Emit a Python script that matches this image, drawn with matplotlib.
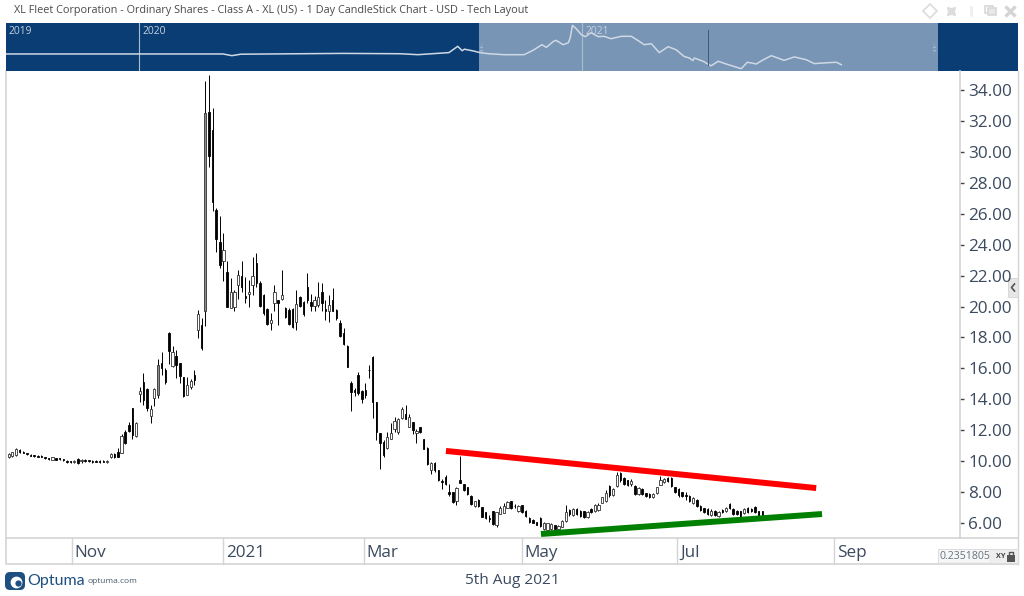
# -*- coding: utf-8 -*-
# XL Fleet daily candles, Optuma style layout
import matplotlib
matplotlib.use('Agg')
from matplotlib import pyplot as plt
from matplotlib.patches import Rectangle, FancyBboxPatch

plt.rcParams['font.family'] = ['Open Sans', 'DejaVu Sans']

opens = [
    10.29, 10.33, 10.40, 10.72, 10.60, 10.52, 10.42, 10.38, 10.36, 10.35,
    10.27, 10.20, 10.09, 10.20, 10.18, 10.13, 10.03, 10.00, 9.92, 10.13,
    9.98, 10.09, 10.07, 10.03, 10.03, 10.02, 10.01, 9.94, 10.27, 10.46,
    10.61, 10.55, 11.90, 12.33, 13.41, 11.62, 14.36, 15.14, 14.64, 12.92,
    14.06, 14.27, 16.32, 15.90, 18.26, 16.15, 16.80, 16.32, 15.42, 14.28,
    14.77, 15.57,
    18.45, 18.81, 19.68, 32.61, 31.42, 26.25, 24.14, 22.97, 22.26, 19.89,
    19.96, 21.40, 21.98, 20.69, 20.78, 21.40, 22.80, 21.55, 20.75, 19.85,
    18.92, 20.21, 20.43, 20.50, 19.92, 19.75, 19.85, 19.03, 20.60, 20.32,
    21.25, 20.32, 20.06, 20.11, 20.97, 19.83, 19.68, 20.43, 19.80, 18.92,
    18.28, 17.45,
    15.08, 14.60, 15.57, 14.55, 14.60, 15.92, 16.76, 13.85, 11.80, 11.26,
    10.83, 11.44, 12.06, 11.91, 12.77, 13.05, 12.23, 12.56, 11.80, 12.20,
    11.40, 10.85, 9.43, 9.90, 9.40, 8.70, 9.00, 8.01, 8.00, 7.45,
    8.78, 8.50, 8.30,
    7.75, 7.09, 7.50, 7.03, 6.70, 6.32, 6.75, 5.87, 6.59, 6.67,
    6.99, 7.40, 7.12, 6.78, 7.15, 6.80, 6.33, 6.20, 6.05, 6.30,
    5.60, 5.55, 5.60, 5.84, 5.62, 5.76, 6.13, 6.85, 6.50, 6.90,
    6.80, 6.75, 6.37, 6.90, 6.78, 6.84, 7.32, 7.45, 8.40, 7.81,
    8.40, 9.25, 8.90, 8.75, 8.50, 8.40, 7.87, 8.20, 7.92, 7.88,
    7.66, 7.92, 8.46, 8.62, 8.92, 8.90, 8.30, 8.20, 7.98, 7.80,
    7.75, 7.27, 7.50, 7.12, 6.95, 6.90, 6.50, 6.80, 6.45, 6.84,
    6.78, 7.22, 6.90, 6.78, 6.75, 6.62, 6.96, 6.90, 7.03, 6.75,
    6.75,
]
highs = [
    10.55, 10.61, 10.87, 10.76, 10.63, 10.55, 10.44, 10.40, 10.38, 10.38,
    10.29, 10.22, 10.27, 10.22, 10.22, 10.16, 10.05, 10.03, 10.05, 10.18,
    10.14, 10.12, 10.10, 10.07, 10.07, 10.05, 10.05, 10.05, 10.50, 10.50,
    10.83, 11.75, 12.01, 12.55, 13.46, 12.55, 14.77, 15.72, 14.71, 13.63,
    14.71, 16.58, 17.06, 16.00, 18.33, 17.44, 17.18, 16.37, 15.46, 15.46,
    15.29, 15.89,
    19.78, 19.25, 34.59, 34.98, 32.82, 26.36, 25.86, 24.78, 22.97, 21.83,
    21.08, 22.37, 22.97, 21.94, 21.72, 23.23, 23.49, 21.62, 20.82, 19.89,
    19.57, 21.40, 20.43, 22.37, 19.96, 19.89, 19.89, 21.08, 20.65, 20.37,
    22.15, 20.82, 20.65, 21.57, 21.51, 20.43, 20.75, 21.18, 19.83, 19.14,
    18.60, 17.51,
    15.21, 14.71, 15.79, 14.60, 15.04, 16.22, 16.80, 13.85, 11.85, 11.37,
    11.91, 12.49, 12.88, 12.77, 13.48, 13.64, 13.05, 12.56, 12.06, 12.23,
    11.44, 10.90, 9.97, 9.97, 9.43, 8.83, 9.11, 8.51, 8.03, 8.36,
    10.34, 8.53, 8.36,
    7.81, 7.45, 7.53, 7.06, 6.74, 6.52, 6.80, 6.74, 7.10, 7.28,
    7.45, 7.45, 7.23, 7.17, 7.17, 6.84, 6.37, 6.24, 6.09, 6.37,
    6.09, 6.03, 5.98, 5.87, 5.87, 6.20, 7.17, 6.89, 6.95, 6.95,
    6.84, 6.80, 6.80, 6.95, 7.23, 7.28, 7.71, 8.14, 8.46, 8.25,
    9.32, 9.32, 8.96, 8.78, 8.83, 8.46, 8.31, 8.25, 7.96, 7.92,
    7.96, 8.35, 9.04, 8.89, 8.96, 8.96, 8.35, 8.25, 8.03, 8.03,
    7.81, 7.66, 7.53, 7.17, 6.99, 6.95, 6.89, 6.84, 6.80, 6.89,
    7.06, 7.28, 6.95, 6.84, 6.80, 6.95, 7.02, 6.95, 7.10, 6.80,
    6.80,
]
lows = [
    10.20, 10.29, 10.35, 10.55, 10.50, 10.40, 10.31, 10.29, 10.27, 10.25,
    10.16, 10.09, 10.05, 10.05, 10.07, 10.01, 9.90, 9.88, 9.88, 9.81,
    9.90, 9.97, 9.95, 9.90, 9.92, 9.88, 9.92, 9.90, 10.22, 10.22,
    10.25, 10.50, 11.09, 11.86, 11.43, 11.54, 13.85, 13.63, 13.24, 12.49,
    13.56, 14.06, 15.57, 14.99, 16.28, 16.06, 15.35, 15.03, 14.17, 14.28,
    14.64, 14.90,
    17.95, 17.20, 18.77, 28.99, 26.18, 23.55, 22.48, 21.68, 19.96, 19.89,
    19.68, 20.47, 20.97, 20.22, 19.96, 20.75, 21.29, 20.00, 19.46, 18.81,
    18.45, 19.68, 18.81, 20.43, 19.25, 18.81, 18.60, 18.45, 20.00, 19.40,
    20.22, 19.74, 19.74, 19.96, 19.68, 19.14, 19.03, 19.68, 19.14, 18.06,
    17.52, 16.07,
    13.27, 14.22, 14.28, 13.74, 14.07, 15.36, 12.77, 11.37, 9.48, 10.29,
    10.77, 11.42, 11.91, 11.76, 12.71, 12.71, 12.19, 11.76, 11.20, 11.80,
    10.77, 9.76, 9.17, 9.33, 8.74, 8.18, 8.46, 7.77, 7.28, 7.17,
    8.57, 8.10, 7.82,
    7.17, 7.06, 7.06, 6.37, 6.26, 6.09, 5.87, 5.77, 6.59, 6.63,
    6.95, 6.89, 6.95, 6.74, 6.67, 6.41, 6.03, 5.98, 5.87, 5.77,
    5.55, 5.51, 5.55, 5.59, 5.59, 5.72, 6.09, 6.46, 6.46, 6.52,
    6.41, 6.31, 6.31, 6.67, 6.74, 6.80, 7.28, 7.38, 7.71, 7.75,
    8.35, 8.68, 8.46, 8.40, 8.40, 7.81, 7.81, 7.81, 7.71, 7.60,
    7.60, 7.88, 8.46, 8.57, 8.68, 8.35, 7.92, 7.71, 7.66, 7.49,
    7.38, 7.23, 7.06, 6.80, 6.63, 6.52, 6.46, 6.46, 6.41, 6.63,
    6.74, 6.89, 6.52, 6.52, 6.41, 6.59, 6.67, 6.74, 6.67, 6.41,
    6.46,
]
closes = [
    10.46, 10.57, 10.76, 10.60, 10.53, 10.45, 10.35, 10.32, 10.30, 10.29,
    10.20, 10.12, 10.24, 10.09, 10.11, 10.05, 9.94, 9.92, 10.02, 9.90,
    10.10, 10.00, 9.99, 9.94, 9.96, 9.92, 9.96, 10.01, 10.46, 10.27,
    10.29, 11.62, 11.15, 11.97, 11.69, 12.49, 14.53, 13.95, 13.41, 13.37,
    14.64, 16.21, 16.00, 15.10, 17.14, 17.08, 16.21, 15.50, 14.21, 14.92,
    15.20, 15.25,
    19.50, 17.31, 32.50, 29.74, 26.79, 24.35, 22.69, 23.66, 20.00, 20.93,
    20.97, 22.05, 21.25, 20.58, 20.95, 21.98, 21.51, 20.05, 19.55, 18.90,
    19.14, 20.93, 20.21, 20.75, 19.35, 18.90, 18.70, 20.17, 20.05, 19.50,
    20.43, 20.04, 20.39, 20.60, 20.22, 19.72, 20.11, 19.74, 19.25, 18.10,
    17.59, 16.10,
    14.50, 14.50, 14.39, 14.00, 14.30, 15.88, 13.85, 11.91, 11.16, 10.40,
    11.54, 11.80, 12.62, 12.71, 13.35, 12.71, 12.88, 12.02, 11.98, 11.90,
    10.80, 9.80, 9.91, 9.40, 8.80, 8.66, 8.55, 7.88, 7.35, 8.29,
    8.61, 8.15, 7.85,
    7.22, 7.40, 7.10, 6.42, 6.32, 6.28, 5.95, 6.74, 6.95, 7.10,
    7.38, 6.95, 7.08, 7.12, 6.72, 6.45, 6.08, 6.02, 5.90, 5.82,
    6.02, 5.98, 5.95, 5.62, 5.82, 6.10, 6.74, 6.60, 6.90, 6.60,
    6.48, 6.36, 6.74, 6.70, 7.15, 7.17, 7.66, 7.96, 7.80, 8.18,
    9.10, 8.75, 8.52, 8.45, 8.72, 7.88, 8.25, 7.88, 7.75, 7.66,
    7.90, 8.30, 8.78, 8.85, 8.72, 8.40, 7.98, 7.78, 7.72, 7.72,
    7.45, 7.60, 7.12, 6.85, 6.68, 6.60, 6.80, 6.50, 6.74, 6.68,
    7.00, 6.95, 6.58, 6.56, 6.46, 6.90, 6.72, 6.78, 6.72, 6.46,
    6.50,
]

# trend lines, bar number / price
red_bars = [120.1, 221.8]
red_prices = [10.66, 8.26]
green_bars = [146.2, 223.4]
green_prices = [5.29, 6.58]

price_ticks = [34, 32, 30, 28, 26, 24, 22, 20, 18, 16, 14, 12, 10, 8, 6]
month_bars = [17.4, 58.9, 97.6, 141, 183.6, 226.7]
month_labels = ['Nov', '2021', 'Mar', 'May', 'Jul', 'Sep']

# overview strip, year fraction / price
nav_years = [
    2019.70, 2020.19, 2020.21, 2020.23, 2020.46, 2020.59, 2020.63, 2020.70,
    2020.72, 2020.73, 2020.735, 2020.757, 2020.77, 2020.79, 2020.825, 2020.84,
    2020.87, 2020.89, 2020.91, 2020.92, 2020.936, 2020.942, 2020.958, 2020.97,
    2020.974, 2020.979, 2020.988, 2020.999, 2021.008, 2021.021, 2021.037,
    2021.051, 2021.066, 2021.089, 2021.112, 2021.13, 2021.141, 2021.157,
    2021.175, 2021.195, 2021.213, 2021.231, 2021.243, 2021.251, 2021.254,
    2021.274, 2021.292, 2021.308, 2021.331, 2021.36, 2021.374, 2021.394,
    2021.41, 2021.428, 2021.457, 2021.48, 2021.507, 2021.525, 2021.548,
    2021.575, 2021.586,
]
nav_prices = [
    10.0, 10.0, 9.3, 9.9, 10.25, 10.1, 9.7, 10.6,
    13.9, 11.5, 12.3, 11.3, 10.6, 10.1, 9.7, 9.7,
    9.7, 11.7, 14.9, 13.3, 17.2, 18.0, 14.9, 16.3,
    20.2, 34.3, 29.4, 23.0, 21.1, 25.0, 21.1,
    21.4, 19.3, 21.4, 21.4, 17.2, 14.9, 15.6,
    10.6, 13.7, 12.0, 9.0, 8.4, 7.5, 8.4,
    7.3, 6.0, 7.3, 6.3, 5.3, 7.0, 6.5,
    7.8, 9.3, 7.6, 8.8, 7.8, 6.6, 6.8,
    7.0, 6.3,
]
nav_year_ticks = [2020, 2021]

W, H = 1024, 596
DARK = '#0a3d73'
LIGHT = '#7895b5'
GREY = '#d4d4d4'
TXT = '#3b4a5e'


def px_axes(fig, x0, y0, x1, y1):
    # axes placed by pixel box, y measured from the top
    return fig.add_axes([x0 / W, 1 - y1 / H, (x1 - x0) / W, (y1 - y0) / H])


def draw_chrome(fig):
    ax = fig.add_axes([0, 0, 1, 1], zorder=0)
    ax.set_xlim(0, W)
    ax.set_ylim(H, 0)
    ax.axis('off')
    ax.text(14, 11, 'XL Fleet Corporation - Ordinary Shares - Class A - XL (US) - 1 Day '
            'CandleStick Chart - USD - Tech Layout', fontsize=7.8, color='#4a4a4a', va='center')
    # toolbar
    ax.plot(930, 10.5, 'D', ms=7, mfc='white', mec='#dcdcdc', mew=1.2)
    ax.plot(951, 10.5, marker=(4, 1, 45), ms=8, color='#dcdcdc')
    ax.plot([971, 971], [7, 15], color='#efefef', lw=2)
    ax.add_patch(Rectangle((985, 6), 8, 7, fc='white', ec='#d8d8d8', lw=1.2))
    ax.add_patch(Rectangle((988, 8), 8, 7, fc='#e8e8e8', ec='#d8d8d8', lw=1.2))
    ax.plot(1009.5, 10.5, 'x', ms=7, mew=2.4, color='#d4d4d4')
    # frame and date strip
    ax.plot([6, 6, 1018], [71, 564, 564], color=GREY, lw=1.2)
    ax.plot([6, 1018], [538, 538], color=GREY, lw=1.2)
    ax.plot([1018, 1018], [71, 564], color=GREY, lw=1.0)
    # side tab
    ax.add_patch(Rectangle((1008, 278), 10, 19, fc='#e6e6e6', ec='#d4d4d4', lw=0.6, zorder=3))
    ax.plot([1014.5, 1011.5, 1014.5], [284, 287.5, 291], color='#555555', lw=1.2, zorder=4)
    # coordinate box
    ax.add_patch(Rectangle((938, 549), 80, 14, fc='#eeeeee', ec='#dddddd', lw=0.8, zorder=3))
    ax.add_patch(Rectangle((939, 550), 50, 12, fc='#f7f7f7', ec='none', zorder=3))
    t = ax.text(940, 556.5, '0.2351805', fontsize=7.6, color='#66727f', va='center', zorder=4)
    t.set_clip_path(Rectangle((939, 549), 49, 14, transform=ax.transData))
    ax.text(1001, 556, 'XY', fontsize=5.2, color='#444444', va='center', ha='center',
            fontweight='bold', zorder=4)
    ax.add_patch(Rectangle((1006.5, 555), 8, 7, fc='#555555', ec='none', zorder=4))
    ax.plot([1008.5, 1008.5, 1012.5, 1012.5], [555, 552, 552, 555], color='#555555', lw=1, zorder=4)
    # footer
    ax.add_patch(FancyBboxPatch((5, 572), 20, 18, boxstyle='round,pad=0,rounding_size=5',
                                fc='#1d4f80', ec='none'))
    ax.plot(16, 582, 'o', ms=8.5, mfc='white', mec='none')
    ax.plot(17.5, 582.5, 'o', ms=4.5, mfc='#1d4f80', mec='none')
    ax.text(27, 581, 'Optuma', fontsize=11.5, family='Lato', color='#1d4f80', va='center')
    ax.text(87, 581.5, 'optuma.com', fontsize=6, color='#4a5a6a', va='center')
    ax.text(512, 580.5, '5th Aug 2021', fontsize=11.1, color=TXT, va='center', ha='center')


def draw_nav(fig):
    ax = px_axes(fig, 6, 23, 1018, 71)
    ax.set_facecolor(DARK)
    ax.set_xlim(2019.70, 2021.985)
    ax.set_yscale('log')
    ax.set_ylim(4.8, 38)
    ax.axis('on')
    ax.set_xticks([])
    ax.set_yticks([])
    ax.minorticks_off()
    for s in ax.spines.values():
        s.set_visible(False)
    ax.axvspan(2020.768, 2021.805, color=LIGHT, lw=0, zorder=1)
    for y in nav_year_ticks:
        ax.axvline(y, color='#a9bdd2', lw=0.8, zorder=2)
    ax.plot(nav_years, nav_prices, color='#cfd9e4', lw=1.1, zorder=3)
    ax.plot([2021.285, 2021.285], [6.2, 28], color='#3e5a78', lw=0.7, zorder=3)
    for x, s in zip([2019.705, 2020.008, 2021.008], ['2019', '2020', '2021']):
        ax.text(x, 0.83, s, transform=ax.get_xaxis_transform(), fontsize=7.4,
                color='#c6d2df', va='center', zorder=4)
    # drag handles on the selection
    for x in [2020.772, 2021.795]:
        ax.plot([x, x], [0.42, 0.56], transform=ax.get_xaxis_transform(),
                color='#9fb2c6', lw=2.4, ls=(0, (0.5, 0.5)), zorder=4)


def draw_candles(ax):
    for i in range(len(opens)):
        o, h, l, c = opens[i], highs[i], lows[i], closes[i]
        ax.vlines(i, l, h, color='black', lw=0.7, zorder=2)
        if c >= o:
            # tall hollow bodies wash out to grey in the reference
            face = '#8a8a8a' if c - o > 1.5 else 'white'
            ax.bar(i, c - o, bottom=o, width=0.62, fc=face, ec='#333333', lw=0.6, zorder=3)
        else:
            ax.bar(i, o - c, bottom=c, width=0.4, fc='black', ec='black', lw=0.6, zorder=3)


def draw_main(fig):
    ax = px_axes(fig, 6, 71, 960, 538)
    ax.patch.set_alpha(0)
    ax.set_xlim(-0.74, 261.3)
    ax.set_ylim(5.03, 35.23)
    draw_candles(ax)
    ax.plot(red_bars, red_prices, color='#ff0000', lw=4.3, zorder=5, solid_capstyle='butt')
    ax.plot(green_bars, green_prices, color='#008000', lw=4.3, zorder=5, solid_capstyle='butt')
    ax.yaxis.tick_right()
    ax.set_yticks(price_ticks)
    ax.set_yticklabels(['%.2f' % p for p in price_ticks], fontsize=12.3, color=TXT)
    ax.tick_params(axis='y', length=3, width=1, color='#444444', pad=3)
    ax.set_xticks([])
    for name in ['top', 'left', 'bottom']:
        ax.spines[name].set_visible(False)
    ax.spines['right'].set_color(GREY)
    ax.spines['right'].set_linewidth(1.2)
    # month labels hang below the plot in the date strip
    for b, s in zip(month_bars, month_labels):
        ax.plot([b, b], [0, -0.0558], transform=ax.get_xaxis_transform(), color=GREY, lw=1.0,
                clip_on=False)
        ax.annotate(s, (b, 0), xycoords=ax.get_xaxis_transform(), xytext=(2, -11),
                    textcoords='offset points', fontsize=12.3, color=TXT, va='center')


if __name__ == '__main__':
    fig = plt.figure(figsize=(W / 100, H / 100), dpi=100)
    draw_chrome(fig)
    draw_nav(fig)
    draw_main(fig)
    fig.savefig('out.png', dpi=100)
